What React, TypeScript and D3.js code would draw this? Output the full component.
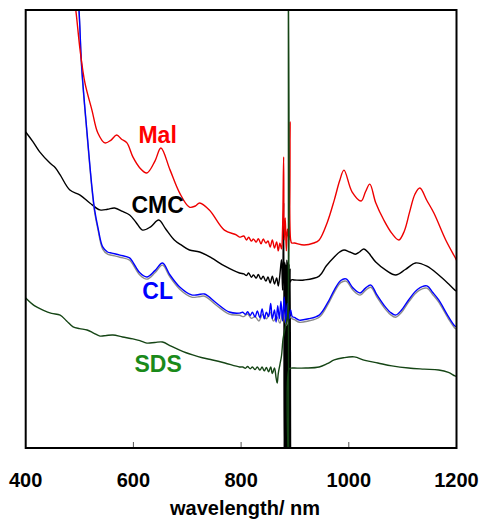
import React, { useEffect, useRef } from 'react';
import * as d3 from 'd3';

// wavelength (nm), absorbance (a.u., offset traces)
const malData: [number, number][] = [
  [485, 2.14], [493, 2.0], [501, 1.817], [510, 1.667], [523, 1.543], [534, 1.438], [547, 1.393],
  [558, 1.405], [569, 1.429], [578, 1.41], [588, 1.393], [599, 1.329], [612, 1.279], [625, 1.256],
  [640, 1.31], [651, 1.37], [668, 1.27], [686, 1.164], [704, 1.1], [715, 1.105], [723, 1.119],
  [741, 1.087], [769, 0.995], [791, 0.973], [797, 0.963],
  [805, 0.968], [810, 0.95], [814, 0.962], [819, 0.945], [823, 0.954], [828, 0.94], [832, 0.956],
  [837, 0.932], [841, 0.954], [846, 0.936], [850, 0.945], [854, 0.918], [858, 0.95], [862, 0.913],
  [866, 0.941], [869, 0.9], [872, 0.935], [875, 0.91], [877, 1.0], [879, 1.329], [880, 0.95],
  [882, 1.05], [884, 0.9], [886, 1.0], [889, 0.95], [891, 1.489], [892, 0.95], [894, 0.936],
  [899, 0.936], [917, 0.927], [935, 0.936], [945, 0.95], [960, 1.03], [973, 1.132], [983, 1.22],
  [991, 1.269], [1006, 1.17], [1023, 1.128], [1031, 1.17], [1039, 1.205], [1050, 1.12],
  [1065, 1.041], [1080, 0.98], [1093, 0.95], [1103, 0.99], [1113, 1.078], [1123, 1.16],
  [1132, 1.187], [1145, 1.13], [1158, 1.073], [1180, 0.95], [1197, 0.872], [1200, 0.858],
];

const cmcData: [number, number][] = [
  [400, 1.443], [413, 1.4], [426, 1.352], [445, 1.301], [455, 1.28], [464, 1.247], [482, 1.178],
  [501, 1.155], [519, 1.119], [538, 1.087], [552, 1.09], [565, 1.096], [580, 1.08], [593, 1.064],
  [605, 1.03], [617, 0.995], [632, 1.01], [647, 1.041], [660, 1.0], [676, 0.95], [690, 0.925],
  [704, 0.904], [723, 0.895], [745, 0.868], [770, 0.83], [797, 0.799],
  [805, 0.795], [810, 0.788], [814, 0.799], [819, 0.78], [823, 0.79], [828, 0.776], [832, 0.792],
  [837, 0.77], [841, 0.785], [846, 0.762], [850, 0.781], [854, 0.753], [858, 0.785], [862, 0.749],
  [866, 0.776], [869, 0.74], [872, 0.79], [875, 0.86], [877, 0.72], [879, 1.119], [880, -0.05],
  [881, 0.85], [882, -0.05], [883, 0.84], [884, -0.05], [885, 0.86], [886, -0.05], [887, 0.85],
  [888, -0.05], [889, 0.84], [890, -0.05], [891, 0.82], [892, -0.05], [893, 0.767],
  [899, 0.767], [917, 0.767], [945, 0.785], [958, 0.831], [973, 0.872], [983, 0.895], [991, 0.904],
  [1002, 0.895], [1012, 0.885], [1020, 0.895], [1028, 0.909], [1037, 0.89], [1050, 0.849],
  [1070, 0.81], [1087, 0.79], [1105, 0.815], [1124, 0.845], [1145, 0.83], [1167, 0.79],
  [1185, 0.75], [1197, 0.721], [1200, 0.717],
];

const clData: [number, number][] = [
  [495, 2.11], [499, 2.0], [504, 1.74], [514, 1.438], [523, 1.192], [528, 1.087], [534, 1.009],
  [543, 0.918], [552, 0.895], [560, 0.89], [575, 0.881], [593, 0.868], [599, 0.849], [612, 0.8],
  [625, 0.781], [640, 0.81], [654, 0.845], [668, 0.79], [686, 0.735], [708, 0.699], [720, 0.7],
  [732, 0.703], [754, 0.662], [778, 0.621], [797, 0.616],
  [803, 0.62], [808, 0.61], [812, 0.622], [817, 0.605], [821, 0.62], [826, 0.598], [830, 0.626],
  [835, 0.595], [839, 0.635], [843, 0.59], [847, 0.62], [851, 0.6], [855, 0.66], [858, 0.59],
  [862, 0.63], [865, 0.575], [868, 0.65], [871, 0.59], [874, 0.67], [877, 0.58], [880, 0.69],
  [883, 0.57], [886, 0.66], [889, 0.59], [892, 0.63], [895, 0.6], [899, 0.596], [908, 0.584],
  [925, 0.59], [945, 0.607], [960, 0.66], [973, 0.721], [985, 0.765], [995, 0.772], [1008, 0.73],
  [1021, 0.708], [1031, 0.73], [1041, 0.744], [1052, 0.7], [1065, 0.653], [1077, 0.62],
  [1087, 0.607], [1098, 0.63], [1111, 0.676], [1128, 0.725], [1145, 0.74], [1156, 0.71],
  [1167, 0.676], [1185, 0.6], [1197, 0.557], [1200, 0.553],
];

// duplicate CL measurement (grey, sits just under the blue trace)
const clRepeatData: [number, number][] = [
  [495, 2.1], [499, 1.99], [504, 1.73], [514, 1.428], [523, 1.182], [528, 1.077], [534, 0.999],
  [543, 0.908], [552, 0.885], [560, 0.88], [575, 0.871], [593, 0.858], [599, 0.839], [612, 0.79],
  [625, 0.771], [640, 0.8], [654, 0.835], [668, 0.78], [686, 0.725], [708, 0.689], [720, 0.69],
  [732, 0.693], [754, 0.652], [778, 0.611], [797, 0.606],
  [805, 0.6], [812, 0.612], [819, 0.592], [826, 0.6], [833, 0.58], [840, 0.61], [847, 0.59],
  [854, 0.62], [860, 0.58], [866, 0.6], [872, 0.57], [878, 0.63], [884, 0.56], [890, 0.6],
  [895, 0.59], [899, 0.586], [908, 0.574], [925, 0.58], [945, 0.597], [960, 0.65], [973, 0.711],
  [985, 0.755], [995, 0.762], [1008, 0.72], [1021, 0.698], [1031, 0.72], [1041, 0.734],
  [1052, 0.69], [1065, 0.643], [1077, 0.61], [1087, 0.597], [1098, 0.62], [1111, 0.666],
  [1128, 0.715], [1145, 0.73], [1156, 0.7], [1167, 0.666], [1185, 0.59], [1197, 0.547], [1200, 0.543],
];

const sdsData: [number, number][] = [
  [400, 0.685], [416, 0.65], [432, 0.63], [448, 0.615], [464, 0.607], [476, 0.58], [488, 0.553],
  [500, 0.545], [514, 0.539], [526, 0.525], [538, 0.511], [550, 0.514], [562, 0.516], [580, 0.507],
  [599, 0.498], [612, 0.49], [625, 0.479], [640, 0.482], [654, 0.484], [670, 0.465], [686, 0.447],
  [698, 0.435], [710, 0.425], [728, 0.412], [747, 0.402], [770, 0.388], [797, 0.37],
  [803, 0.37], [808, 0.364], [812, 0.372], [817, 0.362], [821, 0.37], [826, 0.358], [830, 0.37],
  [835, 0.356], [839, 0.37], [843, 0.352], [847, 0.368], [851, 0.348], [855, 0.37], [858, 0.34],
  [862, 0.365], [865, 0.32], [867, 0.297], [869, 0.34], [872, 0.38], [875, 0.42], [878, 0.5],
  [882, 0.55], [886, 0.6], [887.6, 2.2], [888.2, -0.1], [889, 0.36], [893, 0.365], [899, 0.365],
  [920, 0.365], [945, 0.37], [960, 0.385], [973, 0.402], [990, 0.412], [1010, 0.416], [1030, 0.4],
  [1054, 0.388], [1080, 0.375], [1111, 0.365], [1140, 0.36], [1167, 0.356], [1185, 0.345],
  [1197, 0.329], [1200, 0.327],
];

const xTicks = [400, 600, 800, 1000, 1200];

// name, data, colour, label position (nm, absorbance), label colour
const series = [
  { name: 'CMC', data: cmcData, color: '#000000', label: [645, 1.073], labelColor: '#000000' },
  { name: '', data: clRepeatData, color: '#8c8c8c', label: null, labelColor: '' },
  { name: 'CL', data: clData, color: '#0000ff', label: [645, 0.68], labelColor: '#0000ff' },
  { name: 'Mal', data: malData, color: '#ee0000', label: [645, 1.393], labelColor: '#ff0000' },
  { name: 'SDS', data: sdsData, color: '#154515', label: [646, 0.347], labelColor: '#1a8a1a' },
];

export default function App() {
  const svgRef = useRef<SVGSVGElement>(null);

  useEffect(() => {
    const width = 482;
    const height = 522;
    const margin = { top: 10, right: 25.5, bottom: 74, left: 25.7 };

    const svg = d3.select(svgRef.current);
    svg.selectAll('*').remove();
    svg.attr('width', width).attr('height', height);

    const x = d3.scaleLinear().domain([400, 1200]).range([margin.left, width - margin.right]);
    const y = d3.scaleLinear().domain([0, 2]).range([height - margin.bottom, margin.top]);

    svg.append('defs').append('clipPath').attr('id', 'plot-clip')
      .append('rect')
      .attr('x', margin.left)
      .attr('y', margin.top)
      .attr('width', width - margin.left - margin.right)
      .attr('height', height - margin.top - margin.bottom);

    const line = d3.line<[number, number]>()
      .x(d => x(d[0]))
      .y(d => y(d[1]))
      .curve(d3.curveCatmullRom.alpha(0.5));

    const plot = svg.append('g').attr('clip-path', 'url(#plot-clip)');

    series.forEach(s => {
      plot.append('path')
        .datum(s.data)
        .attr('fill', 'none')
        .attr('stroke', s.color)
        .attr('stroke-width', 1.4)
        .attr('stroke-linejoin', 'round')
        .attr('d', line);
    });

    // inner tick marks
    svg.append('g')
      .selectAll('line')
      .data(xTicks.slice(1, -1))
      .enter()
      .append('line')
      .attr('x1', d => x(d))
      .attr('x2', d => x(d))
      .attr('y1', height - margin.bottom)
      .attr('y2', height - margin.bottom - 6)
      .attr('stroke', '#555')
      .attr('stroke-width', 1);

    svg.append('rect')
      .attr('x', margin.left)
      .attr('y', margin.top)
      .attr('width', width - margin.left - margin.right)
      .attr('height', height - margin.top - margin.bottom)
      .attr('fill', 'none')
      .attr('stroke', '#000')
      .attr('stroke-width', 2);

    svg.append('g')
      .selectAll('text')
      .data(xTicks)
      .enter()
      .append('text')
      .attr('x', d => x(d))
      .attr('y', 487)
      .attr('text-anchor', 'middle')
      .attr('font-family', 'Liberation Sans, Arial, sans-serif')
      .attr('font-weight', 'bold')
      .attr('font-size', '20px')
      .text(d => d);

    svg.append('text')
      .attr('x', 245)
      .attr('y', 515)
      .attr('text-anchor', 'middle')
      .attr('font-family', 'Liberation Sans, Arial, sans-serif')
      .attr('font-weight', 'bold')
      .attr('font-size', '20px')
      .text('wavelength/ nm');

    series.filter(s => s.label).forEach(s => {
      const [lx, ly] = s.label as number[];
      svg.append('text')
        .attr('x', x(lx))
        .attr('y', y(ly))
        .attr('text-anchor', 'middle')
        .attr('font-family', 'Liberation Sans, Arial, sans-serif')
        .attr('font-weight', 'bold')
        .attr('font-size', '23px')
        .attr('fill', s.labelColor)
        .text(s.name);
    });
  }, []);

  return (
    <div style={{ position: 'absolute', left: 0, top: 0 }}>
      <svg ref={svgRef} style={{ display: 'block' }}></svg>
    </div>
  );
}
